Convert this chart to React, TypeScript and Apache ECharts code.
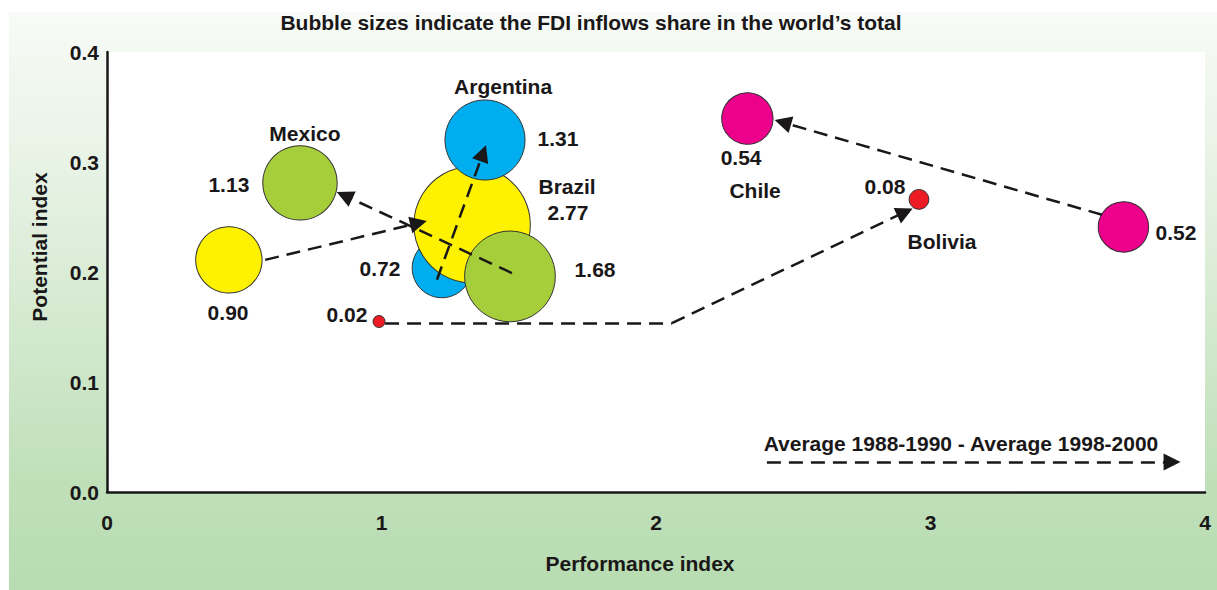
import React, { useEffect, useRef } from "react";
import * as echarts from "echarts";

// ---- Data ----
const countries = ["Brazil", "Mexico", "Argentina", "Chile", "Bolivia"];
const countryColors = ["#fff200", "#a6cd3a", "#00aeef", "#ec008c", "#ed1c24"];

// Average 1988-1990: [performance, potential, FDI share]
const start1988 = [
  [0.444, 0.211, 0.9],
  [1.468, 0.196, 1.68],
  [1.22, 0.2036, 0.72],
  [3.703, 0.241, 0.52],
  [0.991, 0.155, 0.02],
];
// Average 1998-2000
const end1998 = [
  [1.33, 0.243, 2.77],
  [0.703, 0.281, 1.13],
  [1.377, 0.32, 1.31],
  [2.333, 0.3395, 0.54],
  [2.958, 0.266, 0.08],
];

// drawing order: [countryIndex, period(0=1988,1=1998)]
const drawOrder = [
  [2, 0],
  [0, 1],
  [2, 1],
  [1, 0],
  [1, 1],
  [0, 0],
  [3, 0],
  [3, 1],
  [4, 0],
  [4, 1],
];

// Arrow paths (data coordinates)
const arrowSegments = [
  [[0.576, 0.211], [1.135, 0.2445]],
  [[1.475, 0.199], [0.865, 0.2695]],
  [[1.202, 0.193], [1.37, 0.308]],
  [[3.625, 0.252], [2.462, 0.336]],
  [[2.058, 0.1536], [2.907, 0.2545]],
  [[2.404, 0.0273], [3.88, 0.0273]],
];
const plainSegments = [[[1.013, 0.1536], [2.058, 0.1536]]];

// Text labels placed at data coordinates
const textLabels = [
  { text: "Mexico", x: 0.721, y: 0.326 },
  { text: "Argentina", x: 1.443, y: 0.369 },
  { text: "Brazil", x: 1.676, y: 0.278 },
  { text: "Chile", x: 2.361, y: 0.2745 },
  { text: "Bolivia", x: 3.042, y: 0.228 },
  { text: "1.13", x: 0.444, y: 0.28 },
  { text: "0.90", x: 0.441, y: 0.1636 },
  { text: "0.72", x: 0.9945, y: 0.2036 },
  { text: "1.31", x: 1.643, y: 0.321 },
  { text: "2.77", x: 1.679, y: 0.2545 },
  { text: "1.68", x: 1.778, y: 0.2027 },
  { text: "0.54", x: 2.31, y: 0.3045 },
  { text: "0.52", x: 3.894, y: 0.2355 },
  { text: "0.08", x: 2.834, y: 0.2773 },
  { text: "0.02", x: 0.874, y: 0.161 },
  { text: "Average 1988-1990 - Average 1998-2000", x: 3.111, y: 0.0445 },
];

const xTicks = [0, 1, 2, 3, 4];
const yTicks = [0, 0.1, 0.2, 0.3, 0.4];

const titleText = "Bubble sizes indicate the FDI inflows share in the world\u2019s total";
const xName = "Performance index";
const yName = "Potential index";

const FONT = "'Liberation Sans', Arial, Helvetica, sans-serif";
const INK = "#1a1718";
const FS = 21;

export default function App() {
  const ref = useRef<HTMLDivElement>(null);

  useEffect(() => {
    if (!ref.current) return;
    const chart = echarts.init(ref.current, null, { renderer: "svg" });

    const bubbleData = drawOrder.map(([c, p]) => {
      const src = p === 0 ? start1988[c] : end1998[c];
      return {
        name: countries[c],
        value: src,
        itemStyle: { color: countryColors[c] },
      };
    });

    const option = {
      animation: false,
      backgroundColor: "transparent",
      graphic: [
        {
          type: "rect",
          z: -10,
          silent: true,
          shape: { x: 9, y: 12, width: 1208, height: 578 },
          style: {
            fill: new echarts.graphic.LinearGradient(0, 0, 0, 1, [
              { offset: 0, color: "#f8fbf7" },
              { offset: 0.35, color: "#e2f0df" },
              { offset: 0.8, color: "#c0e0ba" },
              { offset: 1, color: "#b8dcb2" },
            ]),
          },
        },
        {
          type: "text",
          x: 591,
          y: 22,
          style: {
            text: titleText,
            font: `bold ${FS}px ${FONT}`,
            fill: INK,
            align: "center",
            verticalAlign: "middle",
          },
        },
        {
          type: "text",
          x: 640,
          y: 563,
          style: {
            text: xName,
            font: `bold ${FS}px ${FONT}`,
            fill: INK,
            align: "center",
            verticalAlign: "middle",
          },
        },
        {
          type: "text",
          x: 39,
          y: 247,
          rotation: Math.PI / 2,
          style: {
            text: yName,
            font: `bold ${FS}px ${FONT}`,
            fill: INK,
            align: "center",
            verticalAlign: "middle",
          },
        },
      ],
      grid: {
        left: 107,
        right: 12,
        top: 52,
        bottom: 98,
        show: true,
        backgroundColor: "#ffffff",
        borderWidth: 0,
      },
      xAxis: {
        type: "value",
        min: xTicks[0],
        max: xTicks[xTicks.length - 1],
        interval: 1,
        axisLine: { show: true, onZero: false, lineStyle: { color: INK, width: 2.5 } },
        axisTick: { show: false },
        splitLine: { show: false },
        axisLabel: {
          color: INK,
          fontFamily: FONT,
          fontWeight: "bold",
          fontSize: FS,
          margin: 20,
        },
      },
      yAxis: {
        type: "value",
        min: yTicks[0],
        max: yTicks[yTicks.length - 1],
        interval: 0.1,
        axisLine: { show: true, onZero: false, lineStyle: { color: INK, width: 2.5 } },
        axisTick: { show: false },
        splitLine: { show: false },
        axisLabel: {
          color: INK,
          fontFamily: FONT,
          fontWeight: "bold",
          fontSize: FS,
          margin: 8,
          formatter: (v: number) => v.toFixed(1),
        },
      },
      series: [
        {
          type: "scatter",
          data: bubbleData,
          symbolSize: (val: number[]) => Math.max(12, 70 * Math.sqrt(val[2])),
          itemStyle: { borderColor: "#333333", borderWidth: 1, opacity: 1 },
          emphasis: { disabled: true },
          z: 2,
        },
        {
          type: "lines",
          coordinateSystem: "cartesian2d",
          data: plainSegments.map((s) => ({ coords: s })),
          symbol: ["none", "none"],
          lineStyle: { color: INK, width: 2.5, type: [14, 8], opacity: 1, curveness: 0 },
          z: 5,
          silent: true,
        },
        {
          type: "lines",
          coordinateSystem: "cartesian2d",
          data: arrowSegments.map((s) => ({ coords: s })),
          symbol: ["none", "triangle"],
          symbolSize: [15, 17],
          lineStyle: { color: INK, width: 2.5, type: [14, 8], opacity: 1, curveness: 0 },
          itemStyle: { color: INK },
          z: 5,
          silent: true,
        },
        {
          type: "scatter",
          data: textLabels.map((t) => ({ name: t.text, value: [t.x, t.y] })),
          symbolSize: 1,
          itemStyle: { color: "rgba(0,0,0,0)", opacity: 1 },
          emphasis: { disabled: true },
          silent: true,
          z: 6,
          label: {
            show: true,
            position: "inside",
            formatter: (p: any) => p.name,
            color: INK,
            opacity: 1,
            fontFamily: FONT,
            fontWeight: "bold",
            fontSize: FS,
          },
        },
      ],
    };

    chart.setOption(option as any);
    return () => chart.dispose();
  }, []);

  return (
    <div
      ref={ref}
      style={{ position: "absolute", left: 0, top: 0, width: 1217, height: 590 }}
    />
  );
}
